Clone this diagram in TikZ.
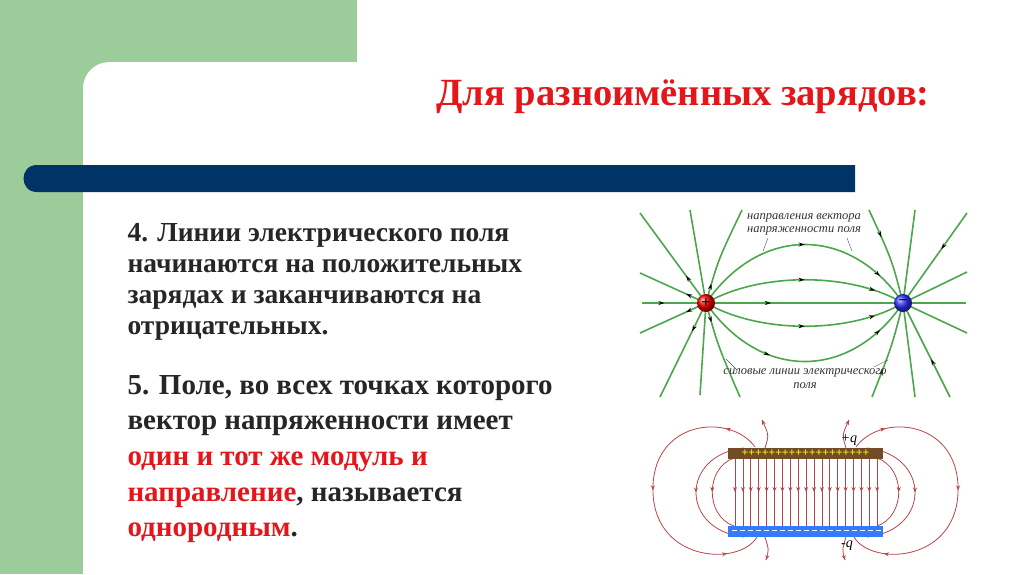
\documentclass[tikz,border=0pt]{standalone}
\usepackage{fontspec}
\setmainfont{Liberation Serif}
\usetikzlibrary{decorations.markings,arrows.meta}
\definecolor{gr}{HTML}{9BCC9A}
\definecolor{nav}{HTML}{003466}
\definecolor{fl}{HTML}{4CA64C}
\definecolor{cr}{HTML}{B8444A}
\definecolor{tred}{HTML}{E4161B}
\tikzset{
 fld/.style={fl, line width=1.6pt},
 fa/.style={postaction={decorate,decoration={markings,mark=at position #1 with {\arrow[black]{Stealth[length=6pt,width=4pt]}}}}},
 cl/.style={cr, line width=0.8pt},
 ca/.style={postaction={decorate,decoration={markings,mark=at position #1 with {\arrow[cr]{Stealth[length=5pt,width=4pt]}}}}},
 body/.style={anchor=west, font=\fontsize{27.5}{31}\selectfont\bfseries, align=left, text=black!85},
 lab/.style={font=\fontsize{12.5}{14}\selectfont\itshape, text=black!80},
 lead/.style={black!70, thin}
}
\begin{document}
\begin{tikzpicture}[x=1pt,y=-1pt]
\useasboundingbox (0,0) rectangle (1024,574);
\fill[gr] (0,0) rectangle (357,574);
\fill[white] (83,574) -- (83,89) .. controls (83,73) and (95,62) .. (110,62) -- (357,62) -- (357,574) -- cycle;
\fill[nav] (855,165) -- (37,165) .. controls (19,165) and (19,192) .. (37,192) -- (855,192) -- cycle;
\node[font=\fontsize{38.5}{42}\selectfont\bfseries, text=tred] (title) at (683,97) {Для разноимённых зарядов:};
\node[body] (t4) at (124,282) {4. Линии электрического поля\\начинаются на положительных\\зарядах и заканчиваются на\\отрицательных.};
\node[body, font=\fontsize{29}{35.7}\selectfont\bfseries] (t5) at (124,459) {5. Поле, во всех точках которого\\вектор напряженности имеет\\\textcolor{tred}{один и тот же модуль и}\\\textcolor{tred}{направление}, называется\\\textcolor{tred}{однородным}.};
% dipole
\coordinate (P) at (706,303);
\coordinate (N) at (903,303);
\draw[fld, fa=0.35] (642,303) -- (P);
\draw[fld, fa=0.25] (P) -- (966,303);
\draw[fld, fa=0.5, fa=0.85] (P) .. controls (760,225) and (850,225) .. (N);
\draw[fld, fa=0.5, fa=0.85] (P) .. controls (760,272) and (850,272) .. (N);
\draw[fld, fa=0.5, fa=0.85] (P) .. controls (760,334) and (850,334) .. (N);
\draw[fld, fa=0.35, fa=0.85] (P) .. controls (760,381) and (850,381) .. (N);
\draw[fld, fa=0.2] (P) .. controls (718,260) .. (742,210);
\draw[fld, fa=0.2] (P) .. controls (718,346) .. (740,397);
\draw[fld, fa=0.3] (P) -- (640,213);
\draw[fld, fa=0.3] (P) -- (640,273);
\draw[fld, fa=0.3] (P) -- (640,333);
\draw[fld, fa=0.3] (P) -- (660,397);
\draw[fld] (P) -- (700,395);
\draw[fld] (P) -- (690,210);
\draw[fld, fa=0.3] (869,210) .. controls (892,260) .. (N);
\draw[fld, fa=0.3] (872,397) .. controls (892,346) .. (N);
\draw[fld, fa=0.4] (967,213) -- (N);
\draw[fld] (967,272) -- (N);
\draw[fld] (967,333) -- (N);
\draw[fld, fa=0.4] (950,397) -- (N);
\draw[fld] (915,210) -- (N);
\draw[fld] (915,397) -- (N);
\shade[ball color=red] (P) circle (9);
\shade[ball color=blue!80] (N) circle (9);
\node[font=\bfseries\fontsize{16}{16}\selectfont] at (P) {+};
\node[font=\bfseries\fontsize{16}{16}\selectfont] at (N) {−};
\node[lab] (l1) at (804,218) {направления вектора};
\node[lab] (l2) at (804,231) {напряженности поля};
\coordinate (a1) at (768,238); \coordinate (a2) at (763,251);
\coordinate (b1) at (847,238); \coordinate (b2) at (852,251);
\draw[lead] (a1) -- (a2); \draw[lead] (b1) -- (b2);
\node[lab] (l3) at (805,373) {силовые линии электрического};
\node[lab] (l4) at (805,386) {поля};
\coordinate (c1) at (737,370); \coordinate (c2) at (726,359);
\coordinate (d1) at (874,367); \coordinate (d2) at (888,360);
\draw[lead] (c1) -- (c2); \draw[lead] (d1) -- (d2);
% capacitor
\foreach \i in {0,...,18} {
  \draw[cl, ca=0.5] ({735+\i*7.9},458) -- ({735+\i*7.9},526);
}
\foreach \s in {0,1} {
\begin{scope}[shift={(\s*1611,0)}, xscale={1-2*\s}]
\draw[cl, ca=0.5] (734,458) .. controls (705,468) and (705,516) .. (734,526);
\draw[cl, ca=0.5] (744,448) .. controls (680,455) and (680,530) .. (744,537);
\draw[cl, ca=0.12, ca=0.5, ca=0.88] (755,447) .. controls (730,412) and (650,420) .. (653,493) .. controls (656,563) and (740,566) .. (757,537);
\draw[cl, ca=1] (765,448) .. controls (769,435) .. (762,420);
\draw[cl, ca=1] (765,537) .. controls (769,550) .. (766,560);
\end{scope}
}
\fill[brown!60!black] (728,448) rectangle (883,459);
\node[font=\bfseries\fontsize{11.8}{12}\selectfont, text=yellow!90!white, inner sep=0] (pl) at (805.5,453.5) {+++++++++++++++++++};
\fill[blue!65!cyan!80!white] (728,526) rectangle (883,537);
\foreach \i in {0,...,18} {\draw[white, line width=0.8pt] ({732+\i*8},530) -- ({737+\i*8},530);}
\node[font=\itshape\fontsize{14}{14}\selectfont] (pq) at (849,440) {+q};
\node[font=\itshape\fontsize{14}{14}\selectfont] (nq) at (847,546) {-q};
\end{tikzpicture}
\end{document}
